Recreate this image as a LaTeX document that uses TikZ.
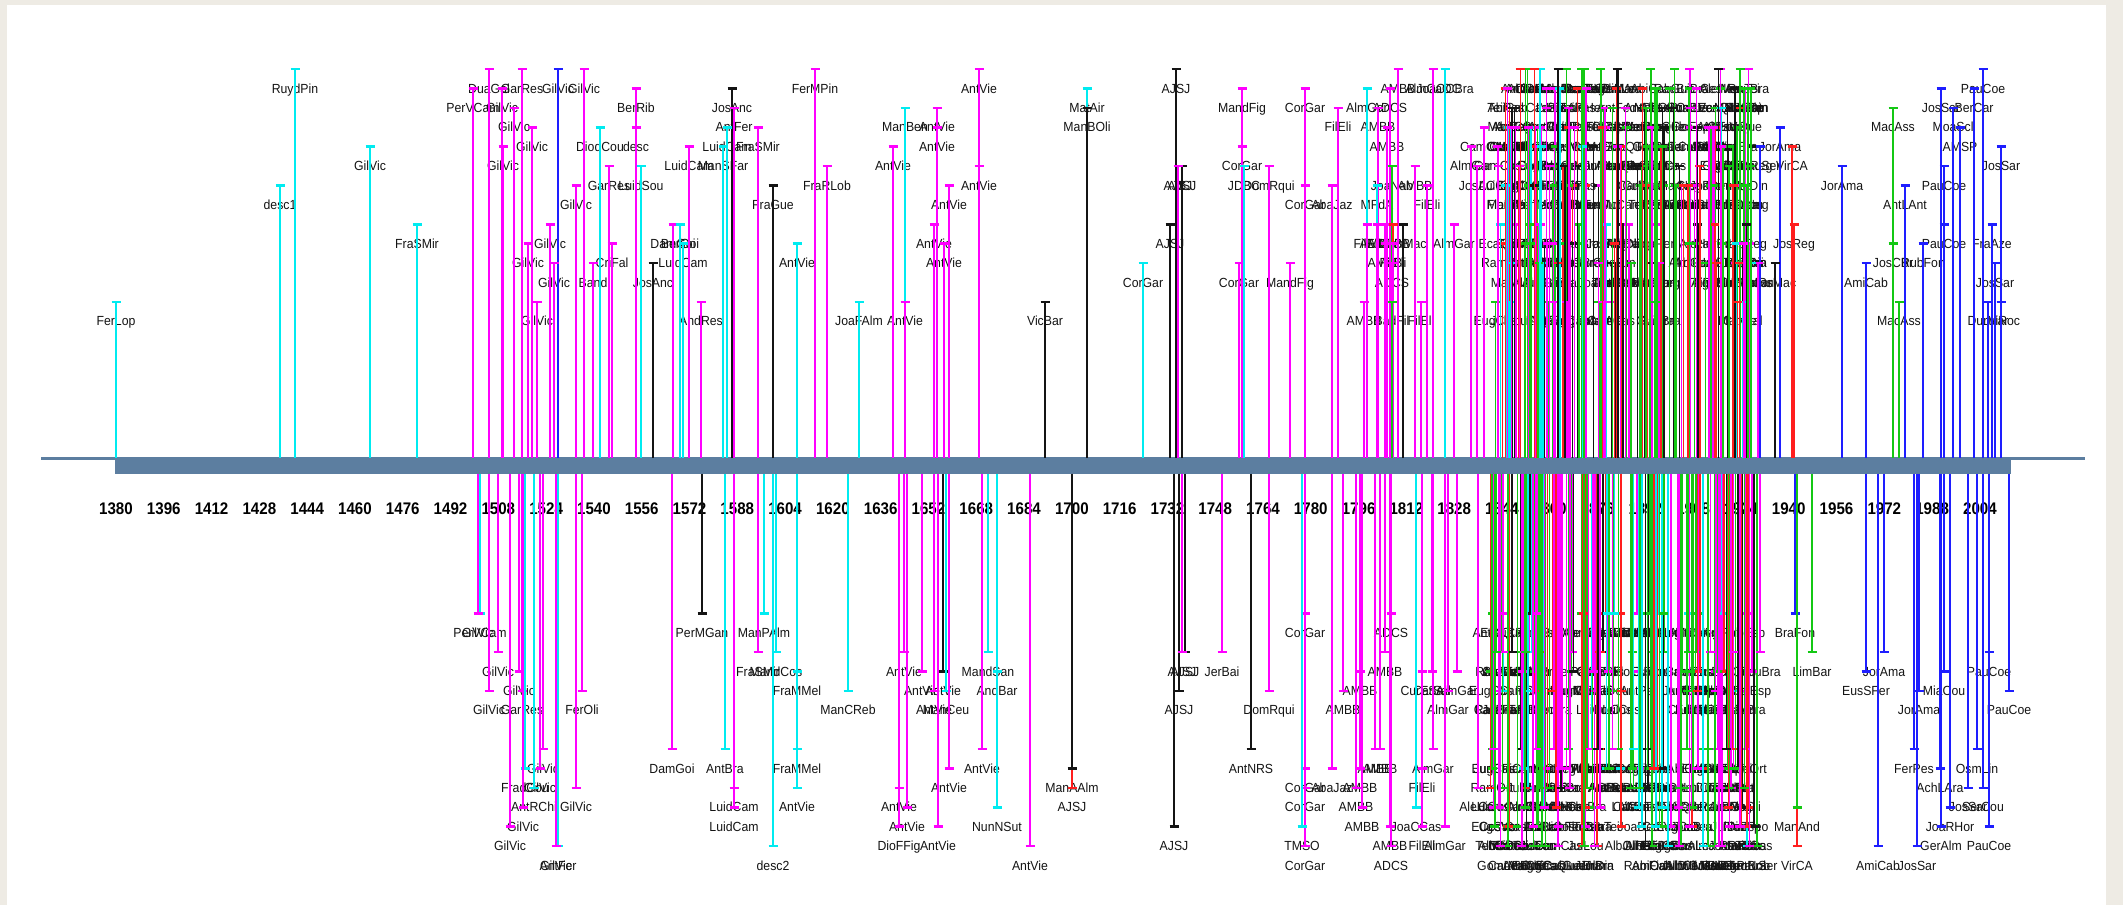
\documentclass[tikz,border=0pt]{standalone}
\usepackage{fontspec}
\newfontfamily\labfont[FakeStretch=0.93]{Liberation Sans}
\newfontfamily\yrfont[FakeStretch=0.9]{Liberation Sans}
\definecolor{mg}{RGB}{255,0,255}
\definecolor{cy}{RGB}{0,235,240}
\definecolor{bl}{RGB}{30,30,255}
\definecolor{gr}{RGB}{20,200,20}
\definecolor{rd}{RGB}{255,30,30}
\definecolor{bk}{RGB}{20,20,20}
\definecolor{txt}{RGB}{20,20,20}
\definecolor{axisc}{RGB}{92,126,160}
\definecolor{beige}{RGB}{238,235,228}
\newcount\labn
\tikzset{
  stemline/.style={line width=1.4pt},
  tickmark/.style={line width=2.6pt},
  lab/.style={anchor=base, inner sep=0pt, text=txt, font=\labfont\fontsize{13.2}{14}\selectfont},
  yearlab/.style={anchor=base, inner sep=0pt, text=black, font=\yrfont\bfseries\fontsize{16.8}{18}\selectfont},
}
\newif\iflabpass
\newcommand\stem[5]{% #1 x, #2 level, #3 colour, #4 label, #5 = u or d
  \if u#5\pgfmathsetmacro\ty{69+19.4*#2}\def\by{457.5}\else\pgfmathsetmacro\ty{613.3+19.4*#2}\def\by{473.5}\fi
  \iflabpass
    \global\advance\labn by 1
    \edef\nn{L\the\labn}%
    \node[lab] (\nn) at (#1,\ty+24) {#4};
  \else
    \draw[stemline,#3] (#1,\by) -- (#1,\ty);
    \draw[tickmark,#3] (#1-4.5,\ty) -- (#1+4.5,\ty);
  \fi
}
\def\uplist{
116/12/cy/FerLop, 280/6/cy/desc1, 295/0/cy/RuydPin, 370/4/cy/GilVic, 417/8/cy/FraSMir,
473/1/mg/PerVCam, 489/0/mg/DuaGal, 502/1/mg/GilVic, 514/2/mg/GilVic, 522/0/mg/GarRes,
532/3/mg/GilVic, 503/4/mg/GilVic, 558/0/bl/GilVic, 584/0/mg/GilVic, 636/1/mg/BerRib,
600/3/cy/DiodCou, 636/3/mg/desc, 689/4/mg/LuidCam, 723/4/cy/ManSFar, 609/5/mg/GarRes,
641/5/cy/LuidSou, 576/6/mg/GilVic, 550/8/mg/GilVic, 673/8/mg/DamGoi, 680/8/cy/BerGoi,
528/9/mg/GilVic, 612/9/mg/CriFal, 683/9/cy/LuidCam, 554/10/mg/GilVic, 593/10/mg/Band,
653/10/bk/JosAnc, 537/12/mg/GilVic, 701/12/mg/AndRes, 732/1/bk/JosAnc, 734/2/mg/AntFer,
727/3/cy/LuidCam, 758/3/mg/FraSMir, 773/6/bk/FraGue, 797/9/cy/AntVie, 815/0/mg/FerMPin,
827/5/mg/FraRLob, 859/12/cy/JoaFAlm, 893/4/mg/AntVie, 905/2/cy/ManBen, 905/12/mg/AntVie,
937/2/mg/AntVie, 937/3/mg/AntVie, 949/6/mg/AntVie, 934/8/mg/AntVie, 944/9/mg/AntVie,
979/0/mg/AntVie, 979/5/mg/AntVie, 1045/12/bk/VicBar, 1087/1/cy/MatAir, 1087/2/bk/ManBOli,
1176/0/bk/AJSJ, 1182/5/bk/AJSJ, 1178/5/mg/AJSJ, 1170/8/bk/AJSJ, 1143/10/cy/CorGar,
1242/1/mg/MandFig, 1242/4/mg/CorGar, 1239/10/mg/CorGar, 1244/5/cy/JDBC, 1269/5/mg/DomRqui,
1290/10/mg/MandFig, 1305/1/mg/CorGar, 1305/6/mg/CorGar, 1332/6/mg/AbaJaz, 1338/2/mg/FilEli,
1367/1/cy/AlmGar, 1367/8/mg/FilEli, 1378/2/mg/AMBB, 1390/1/mg/ADCS, 1398/0/mg/AMBB,
1387/3/mg/AMBB, 1392/5/gr/JoaNab, 1415/5/mg/AMBB, 1377/6/cy/MFdA, 1377/8/mg/AMBB,
1385/8/mg/AMBB, 1393/8/rd/AMBB, 1403/8/bk/ManMac, 1385/9/mg/AMBB, 1393/9/mg/FilEli,
1392/10/mg/ADCS, 1364/12/mg/AMBB, 1392/12/gr/BadFil, 1421/12/mg/FilEli, 1427/6/mg/FilEli,
1433/0/mg/AlmCaOC, 1445/0/cy/JoaOCBra, 1454/8/mg/AlmGar, 1484/3/mg/CamCas, 1477/5/mg/JosAC,
1471/4/mg/AlmGar, 1792/4/rd/VirCA, 1794/8/rd/JosReg, 1780/3/bl/JorAma, 1842/5/bl/JorAma,
1893/2/gr/MacAss, 1893/9/gr/JosCBr, 1866/10/bl/AmiCab, 1899/12/gr/MacAss, 1905/6/bl/AntLAnt,
1923/9/bl/RubFon, 1941/1/bl/JosSar, 1944/5/bl/PauCoe, 1944/8/bl/PauCoe, 1953/2/bl/MoaScl,
1960/3/bl/AMSP, 1974/1/bl/BerCar, 1983/0/bl/PauCoe, 2001/4/bl/JosSar, 1992/8/bl/FraAze,
1995/10/bl/JosSar, 1988/12/bl/DurMar, 2001/12/bl/LuiRoc, 1746/9/mg/RauBra, 1760/4/bl/PauSer,
1758/10/mg/AntRui, 1775/10/bk/JosMac, 1735/10/mg/FloEsp, 1715/10/mg/AlgCSca, 1745/1/mg/FloEsp}
\def\downlist{
480/0/cy/PerVCam, 478/0/mg/GilVic, 498/2/mg/GilVic, 489/4/mg/GilVic, 519/3/mg/GilVic,
522/4/mg/GarRes, 582/4/mg/FerOli, 543/7/mg/GilVic, 525/8/cy/FradCou, 540/8/mg/GilVic,
534/9/cy/AntRChi, 576/9/mg/GilVic, 523/10/mg/GilVic, 510/11/mg/GilVic, 558/12/cy/AntFer,
556/12/mg/GilVic, 672/7/mg/DamGoi, 702/0/bk/PerMGan, 725/7/cy/AntBra, 734/9/mg/LuidCam,
734/10/mg/LuidCam, 758/2/mg/FraSMir, 776/2/cy/MandCos, 764/0/cy/ManPAlm, 773/12/cy/desc2,
797/3/cy/FraMMel, 797/7/cy/FraMMel, 797/9/cy/AntVie, 848/4/cy/ManCReb, 904/2/mg/AntVie,
922/3/mg/AntVie, 943/3/bk/AntVie, 934/4/mg/AntVie, 946/4/cy/ManCeu, 899/9/mg/AntVie,
907/10/mg/AntVie, 899/11/mg/DioFFig, 938/11/mg/AntVie, 949/8/mg/AntVie, 982/7/mg/AntVie,
988/2/cy/MandSan, 997/3/cy/AndBar, 997/10/cy/NunNSut, 1030/12/mg/AntVie, 1072/9/rd/AJSJ,
1072/8/bk/ManAAlm, 1174/11/bk/AJSJ, 1179/4/bk/AJSJ, 1185/2/bk/AJSJ, 1182/2/mg/AJSJ,
1222/2/mg/JerBai, 1251/7/bk/AntNRS, 1269/4/mg/DomRqui, 1305/0/mg/CorGar, 1305/8/mg/CorGar,
1305/9/mg/CorGar, 1305/12/mg/CorGar, 1302/11/cy/TMSO, 1332/8/mg/AbaJaz, 1343/4/mg/AMBB,
1360/3/mg/AMBB, 1385/2/mg/AMBB, 1391/0/mg/ADCS, 1375/7/mg/AMBB, 1380/7/mg/AMBB,
1360/8/mg/AMBB, 1356/9/mg/AMBB, 1362/10/mg/AMBB, 1390/11/mg/AMBB, 1391/12/mg/ADCS,
1416/10/cy/JoaCCas, 1422/11/mg/FilEli, 1445/11/mg/AlmGar, 1422/3/mg/CurESa, 1432/3/mg/CarSal,
1457/3/mg/AlmGar, 1448/4/mg/AlmGar, 1433/7/mg/AlmGar, 1422/8/mg/FilEli, 1478/9/mg/AleHer,
1795/0/bl/BraFon, 1812/2/gr/LimBar, 1797/12/rd/VirCA, 1797/10/gr/ManAnd, 1866/3/bl/EusSFer,
1884/2/bl/JorAma, 1878/12/bl/AmiCab, 1914/7/bl/FerPes, 1917/12/bl/JosSar, 1919/4/bl/JorAma,
1944/3/bl/MiaCou, 1940/8/bl/AchLAra, 1941/11/bl/GerAlm, 1950/10/bl/JoaRHor, 1968/9/bl/JosSar,
1983/9/bl/SerCou, 1977/7/bl/OsmLin, 1989/2/bl/PauCoe, 1989/11/bl/PauCoe, 2009/4/bl/PauCoe,
1757/12/gr/PauSer, 1746/0/mg/FloEsp, 1760/2/mg/RauBra, 1745/4/mg/RauBra, 1752/3/mg/FloEsp,
1720/9/mg/RauBra}
\pgfmathdeclarerandomlist{uplev}{{0}{1}{2}{3}{4}{5}{6}{8}{9}{10}{12}}
\pgfmathdeclarerandomlist{dnlev}{{0}{2}{3}{4}{7}{8}{9}{10}{11}{12}}
\pgfmathdeclarerandomlist{dcol}{{gr}{gr}{gr}{gr}{gr}{mg}{mg}{mg}{mg}{bk}{bk}{rd}{rd}{cy}}
\pgfmathdeclarerandomlist{nm}{{AlmGar}{CamCas}{AntNob}{GueJun}{EcaQue}{CesVer}{RamOrt}{OliMar}{TeoBra}{AntFeo}{JulDin}{FiaAlm}{GomLea}{AbiCab}{WenMor}{CamPes}{EugCas}{RauBra}{AntPat}{TeiPas}{FloEsp}{ManLar}{JoaPen}{AleHer}{JulLou}{MarAle}{GuiBra}{CarMal}{JunBra}{AlbOli}{ManTei}{JoaDeu}{AntCor}{LuiCos}{AntDua}{JosReg}{MarNeg}{CasBra}}
\newcommand\allstems{%
  \foreach \x/\l/\c/\t in \uplist {\stem{\x}{\l}{\c}{\t}{u}}
  \foreach \x/\l/\c/\t in \downlist {\stem{\x}{\l}{\c}{\t}{d}}
  \pgfmathsetseed{4242}
  \foreach \i in {1,...,220}{
    \pgfmathsetmacro\xx{1494+258*rnd}
    \pgfmathrandomitem\lv{uplev}
    \pgfmathrandomitem\cl{dcol}
    \pgfmathrandomitem\nmm{nm}
    \stem{\xx}{\lv}{\cl}{\nmm}{u}
  }
  \foreach \i in {1,...,220}{
    \pgfmathsetmacro\xx{1490+266*rnd}
    \pgfmathrandomitem\lv{dnlev}
    \pgfmathrandomitem\cl{dcol}
    \pgfmathrandomitem\nmm{nm}
    \stem{\xx}{\lv}{\cl}{\nmm}{d}
  }
}
\begin{document}
\begin{tikzpicture}[x=1pt,y=-1pt]
\useasboundingbox (0,0) rectangle (2123,905);
\fill[beige] (0,0) rectangle (2123,905);
\fill[white] (6.5,5) rectangle (2106,905);
% labels first
\labpasstrue
\allstems
% axis
\draw[axisc, line width=3pt] (41,458) -- (2085,458);
\fill[axisc] (115,457) rectangle (2011,474);
\foreach \yr in {1380,1396,...,2004}{
  \pgfmathsetmacro\yx{116+(\yr-1380)*2.987}
  \node[yearlab] (Y\yr) at (\yx,514) {\yr};
}
% stems on top
\labpassfalse
\allstems
\end{tikzpicture}
\end{document}
